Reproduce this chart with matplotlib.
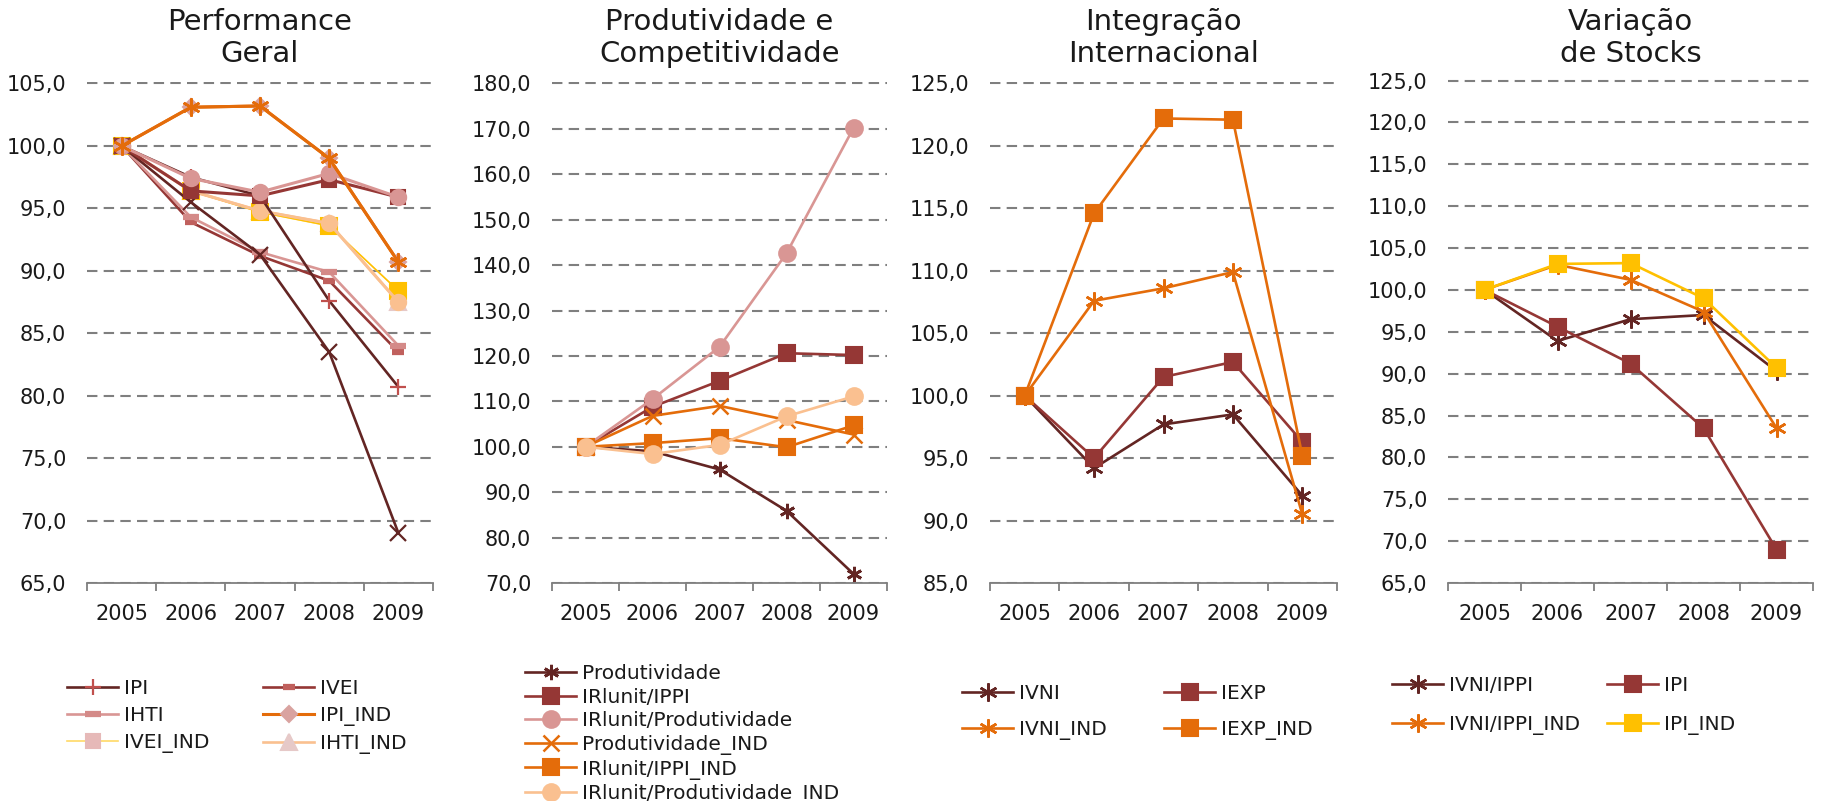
import numpy as np
import matplotlib
matplotlib.use("Agg")
import matplotlib.pyplot as plt
from matplotlib.ticker import FuncFormatter, MultipleLocator

# ---------------------------------------------------------------
# Data (indices, 2005 = 100)
# ---------------------------------------------------------------
years = ["2005", "2006", "2007", "2008", "2009"]

# Performance Geral
perf_ipi      = [100.0, 97.5, 96.0, 87.6, 80.7]
perf_ivei     = [100.0, 93.9, 91.2, 89.2, 83.5]
perf_ihti     = [100.0, 94.3, 91.5, 89.9, 84.0]
perf_ipi_ind  = [100.0, 103.1, 103.2, 99.0, 90.7]
perf_ivei_ind = [100.0, 96.4, 94.7, 93.6, 88.4]
perf_ihti_ind = [100.0, 96.4, 94.8, 93.8, 87.5]
# series drawn on top without a legend entry
perf_prod     = [100.0, 95.5, 91.3, 83.5, 69.0]
perf_irl      = [100.0, 96.4, 96.0, 97.3, 95.9]
perf_irl_prod = [100.0, 97.4, 96.3, 97.8, 95.9]

# Produtividade e Competitividade
prod          = [100.0, 99.0, 95.0, 85.9, 72.0]
irl_ippi      = [100.0, 108.8, 114.5, 120.6, 120.2]
irl_prod      = [100.0, 110.5, 122.0, 142.6, 170.2]
prod_ind      = [100.0, 106.8, 109.0, 105.9, 102.7]
irl_ippi_ind  = [100.0, 100.8, 101.9, 99.9, 104.7]
irl_prod_ind  = [100.0, 98.4, 100.4, 106.7, 111.1]

# Integração Internacional
ivni          = [100.0, 94.2, 97.7, 98.5, 92.0]
iexp          = [100.0, 95.0, 101.5, 102.7, 96.3]
ivni_ind      = [100.0, 107.6, 108.6, 109.9, 90.5]
iexp_ind      = [100.0, 114.6, 122.2, 122.1, 95.2]

# Variação de Stocks
ivni_ippi     = [100.0, 93.9, 96.5, 97.0, 90.3]
stk_ipi       = [100.0, 95.6, 91.2, 83.5, 69.0]
ivni_ippi_ind = [100.0, 103.0, 101.2, 97.4, 83.5]
stk_ipi_ind   = [100.0, 103.1, 103.2, 99.0, 90.7]

titles = ["Performance\nGeral", "Produtividade e\nCompetitividade",
          "Integração\nInternacional", "Variação\nde Stocks"]

# ---------------------------------------------------------------
# Style
# ---------------------------------------------------------------
BROWN  = "#632523"
RED    = "#953735"
PINK   = "#D99694"
ORANGE = "#E46C0A"
YELLOW = "#FFC000"
PEACH  = "#FAC090"
GRID   = "#7f7f7f"
TXT    = "#1a1a1a"
ASTER  = (6, 2, 0)

W, H = 1826, 801
fig = plt.figure(figsize=(W / 100, H / 100), dpi=100)
plt.rcParams["font.family"] = ["DejaVu Sans"]


def add_axes_px(left, right, top, bottom):
    return fig.add_axes([left / W, 1 - bottom / H, (right - left) / W, (bottom - top) / H])


def style_axes(ax, lo, hi, step):
    ax.set_xlim(-0.5, 4.5)
    # a hair of headroom so the top gridline is not cut in half
    ax.set_ylim(lo, hi + (hi - lo) * 0.003)
    ax.yaxis.set_major_locator(MultipleLocator(step))
    ax.yaxis.set_major_formatter(FuncFormatter(lambda v, p: f"{v:.1f}".replace(".", ",")))
    ax.set_xticks(range(len(years)))
    ax.set_xticklabels(years)
    ax.set_xticks(np.arange(-0.5, len(years), 1.0), minor=True)
    ax.tick_params(axis="x", which="major", length=0, pad=15, labelsize=15, labelcolor=TXT)
    ax.tick_params(axis="x", which="minor", length=6, width=1.3, color=GRID, direction="out")
    ax.tick_params(axis="y", length=0, pad=15, labelsize=15, labelcolor=TXT)
    for s in ["top", "right", "left"]:
        ax.spines[s].set_visible(False)
    ax.spines["bottom"].set_color(GRID)
    ax.spines["bottom"].set_linewidth(1.3)
    ax.grid(axis="y", color=GRID, lw=1.5, linestyle=(0, (5, 3)))
    ax.set_axisbelow(True)


def line(ax, y, color, marker, mcolor=None, ms=10, mew=1.5, lw=1.9, label=None):
    mcolor = mcolor or color
    return ax.plot(range(len(y)), y, color=color, lw=lw, marker=marker, ms=ms,
                   mfc=mcolor, mec=mcolor, mew=mew, label=label, clip_on=False)[0]


def legend_px(handles, x, y_first, spacing):
    lg = fig.legend(handles=handles, loc="upper left",
                    bbox_to_anchor=(x / W, 1 - (y_first - 8) / H),
                    frameon=False, borderpad=0, borderaxespad=0,
                    handlelength=2.55, handletextpad=0.3,
                    labelspacing=spacing, fontsize=14.5, labelcolor=TXT)
    return lg


# ---------------------------------------------------------------
# Panel 1 - Performance Geral
# ---------------------------------------------------------------
ax1 = add_axes_px(87, 433, 82, 583)
style_axes(ax1, 65, 105, 5)
h_ivei = line(ax1, perf_ivei, RED, "_", "#C0605D", ms=9, mew=4.5, label="IVEI")
h_ihti = line(ax1, perf_ihti, PINK, "_", "#D48A88", ms=12, mew=4.5, label="IHTI")
h_ihti_ind = line(ax1, perf_ihti_ind, PEACH, "^", "#E6C9C8", ms=11, label="IHTI_IND")
h_ivei_ind = line(ax1, perf_ivei_ind, "#FFD966", "s", "#E6B9B8", ms=10, lw=1.2, label="IVEI_IND")
line(ax1, perf_ivei_ind, YELLOW, "s", ms=11, lw=1.0)
line(ax1, perf_ihti_ind, PEACH, "o", ms=11, lw=2.2)
h_ipi = line(ax1, perf_ipi, BROWN, "+", "#C0504D", ms=12, mew=1.6, label="IPI")
line(ax1, perf_prod, BROWN, "x", ms=11, mew=1.6)
line(ax1, perf_irl, RED, "s", ms=10, lw=2.2)
line(ax1, perf_irl_prod, PINK, "o", ms=11, lw=2.2)
h_ipi_ind = line(ax1, perf_ipi_ind, ORANGE, "D", "#D9A3A0", ms=8, lw=2.2, label="IPI_IND")
line(ax1, perf_ipi_ind, ORANGE, ASTER, ms=13, mew=1.8, lw=2.2)

legend_px([h_ipi, h_ihti, h_ivei_ind], 67, 687, 0.4)
legend_px([h_ivei, h_ipi_ind, h_ihti_ind], 263, 687, 0.4)

# ---------------------------------------------------------------
# Panel 2 - Produtividade e Competitividade
# ---------------------------------------------------------------
ax2 = add_axes_px(552, 887, 82, 583)
style_axes(ax2, 70, 180, 10)
p2 = [
    line(ax2, prod, BROWN, ASTER, ms=11, mew=2.0, label="Produtividade"),
    line(ax2, irl_ippi, RED, "s", ms=11, label="IRlunit/IPPI"),
    line(ax2, irl_prod, PINK, "o", ms=12, label="IRlunit/Produtividade"),
    line(ax2, prod_ind, ORANGE, "x", ms=11, mew=1.8, label="Produtividade_IND"),
    line(ax2, irl_ippi_ind, ORANGE, "s", ms=11, label="IRlunit/IPPI_IND"),
    line(ax2, irl_prod_ind, PEACH, "o", ms=12, label="IRlunit/Produtividade_IND"),
]
legend_px(p2, 525, 672, 0.23)

# ---------------------------------------------------------------
# Panel 3 - Integração Internacional
# ---------------------------------------------------------------
ax3 = add_axes_px(990, 1337, 82, 583)
style_axes(ax3, 85, 125, 5)
h_ivni = line(ax3, ivni, BROWN, ASTER, ms=13, mew=1.8, label="IVNI")
h_iexp = line(ax3, iexp, RED, "s", ms=11, label="IEXP")
h_ivni_ind = line(ax3, ivni_ind, ORANGE, ASTER, ms=13, mew=1.8, label="IVNI_IND")
h_iexp_ind = line(ax3, iexp_ind, ORANGE, "s", ms=11, label="IEXP_IND")
legend_px([h_ivni, h_ivni_ind], 962, 692, 0.83)
legend_px([h_iexp, h_iexp_ind], 1164, 692, 0.83)

# ---------------------------------------------------------------
# Panel 4 - Variação de Stocks
# ---------------------------------------------------------------
ax4 = add_axes_px(1448, 1813, 79, 583)
style_axes(ax4, 65, 125, 5)
h_vi = line(ax4, ivni_ippi, BROWN, ASTER, ms=13, mew=1.8, label="IVNI/IPPI")
h_pi = line(ax4, stk_ipi, RED, "s", ms=11, label="IPI")
h_vi_ind = line(ax4, ivni_ippi_ind, ORANGE, ASTER, ms=13, mew=1.8, label="IVNI/IPPI_IND")
h_pi_ind = line(ax4, stk_ipi_ind, YELLOW, "s", ms=11, label="IPI_IND")
legend_px([h_vi, h_vi_ind], 1392, 684, 0.98)
legend_px([h_pi, h_pi_ind], 1607, 684, 0.98)

# ---------------------------------------------------------------
# Titles
# ---------------------------------------------------------------
for ax, title in zip([ax1, ax2, ax3, ax4], titles):
    pos = ax.get_position()
    fig.text(pos.x0 + pos.width / 2, 1 - 38 / H, title, ha="center", va="center",
             fontsize=21, color=TXT, linespacing=1.2)

fig.savefig("out.png", dpi=100)
